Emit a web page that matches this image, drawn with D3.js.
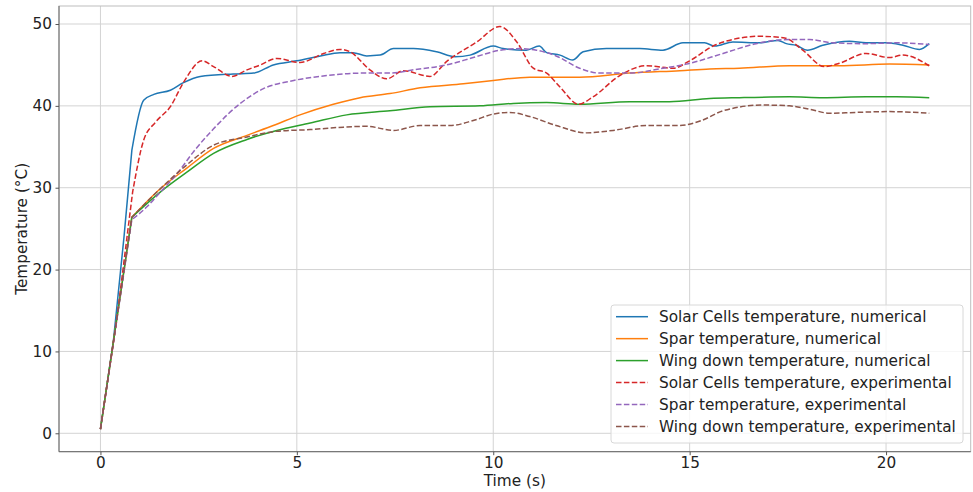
<!DOCTYPE html>
<html>
<head>
<meta charset="utf-8">
<script src="https://cdn.jsdelivr.net/npm/d3@7"></script>
<style>
  html, body { margin: 0; padding: 0; background: #fff; }
  svg { display: block; font-family: "DejaVu Sans", sans-serif; }
</style>
</head>
<body>
<svg id="chart" width="973" height="492"></svg>
<script>
// Time (s) / temperature (°C) samples for each series
const solarNumT = [0, 0.33, 0.6, 0.8, 1.1, 1.36, 1.78, 2.1, 2.54, 3.38, 3.9, 4.4, 5.0, 5.6, 6.1, 6.43, 6.78, 7.12, 7.46, 7.97, 8.56, 9.03, 9.41, 10.0, 10.25, 10.84, 11.17, 11.36, 11.7, 12.02, 12.29, 12.88, 13.73, 14.32, 14.83, 15.38, 15.64, 16.1, 16.78, 17.25, 17.46, 17.71, 18.0, 18.39, 19.07, 19.49, 20.0, 20.43, 20.85, 21.1];
const solarNumV = [0.5, 11.3, 24.0, 34.6, 40.7, 41.4, 41.9, 42.8, 43.6, 43.9, 44.0, 45.0, 45.5, 46.1, 46.5, 46.5, 46.1, 46.2, 47.0, 47.0, 46.6, 46.0, 46.2, 47.3, 47.0, 46.8, 47.3, 46.5, 46.2, 45.6, 46.6, 47.0, 47.0, 46.8, 47.7, 47.7, 47.3, 47.8, 47.7, 48.0, 47.6, 47.4, 46.8, 47.4, 47.9, 47.7, 47.7, 47.4, 46.9, 47.6];

const sparNumT = [0, 0.8, 1.53, 2.2, 2.88, 3.73, 4.4, 5.08, 5.93, 6.61, 7.37, 8.14, 9.24, 10.0, 10.93, 12.2, 13.47, 14.75, 15.51, 16.27, 17.54, 18.81, 20.09, 21.1];
const sparNumV = [0.5, 26.4, 29.9, 32.4, 34.8, 36.4, 37.6, 38.9, 40.2, 41.0, 41.5, 42.2, 42.7, 43.1, 43.5, 43.5, 44.0, 44.3, 44.5, 44.6, 44.9, 44.9, 45.1, 45.0];

const wingNumT = [0, 0.8, 1.53, 2.2, 2.88, 3.73, 4.49, 5.34, 6.27, 7.37, 8.39, 9.66, 10.51, 11.36, 12.2, 13.47, 14.49, 15.51, 16.27, 17.54, 18.39, 19.49, 20.26, 21.1];
const wingNumV = [0.5, 26.4, 29.5, 31.9, 34.2, 35.9, 37.0, 37.9, 38.9, 39.4, 39.9, 40.0, 40.3, 40.4, 40.2, 40.5, 40.5, 40.9, 41.0, 41.1, 41.0, 41.1, 41.1, 41.0];

const solarExpT = [0, 0.4, 0.82, 1.1, 1.4, 1.78, 2.12, 2.59, 2.88, 3.35, 3.73, 4.07, 4.49, 5.08, 5.68, 6.1, 6.36, 6.86, 7.29, 7.71, 8.39, 8.81, 9.58, 10.17, 10.6, 11.02, 11.36, 11.7, 12.17, 12.54, 13.22, 13.9, 14.58, 15.0, 15.68, 16.78, 17.42, 17.88, 18.43, 18.81, 19.49, 20.09, 20.43, 21.1];
const solarExpV = [0.5, 13.3, 29.5, 35.8, 38.0, 39.9, 42.9, 45.5, 44.8, 43.6, 44.4, 45.0, 45.8, 45.3, 46.4, 46.9, 46.6, 44.4, 43.3, 44.3, 43.6, 45.4, 47.8, 49.7, 47.8, 44.6, 44.0, 42.3, 40.2, 41.1, 43.7, 44.9, 44.6, 45.5, 47.5, 48.5, 48.3, 46.8, 44.8, 45.2, 46.4, 45.9, 46.2, 44.9];

const sparExpT = [0, 0.8, 1.19, 1.53, 1.95, 2.37, 2.88, 3.56, 4.15, 4.92, 5.76, 6.61, 7.37, 7.97, 8.81, 9.49, 10.17, 10.68, 11.1, 11.6, 12.2, 12.71, 13.47, 14.32, 14.92, 15.85, 16.69, 17.54, 18.05, 18.65, 19.49, 20.26, 21.1];
const sparExpV = [0.5, 26.1, 27.7, 29.5, 31.7, 34.4, 37.2, 40.3, 42.1, 43.1, 43.7, 44.0, 44.0, 44.4, 45.0, 45.9, 46.8, 47.0, 46.8, 46.1, 44.6, 44.0, 44.0, 44.6, 45.1, 46.4, 47.6, 48.1, 48.1, 47.7, 47.6, 47.7, 47.5];

const wingExpT = [0, 0.8, 1.53, 2.2, 2.88, 3.73, 4.49, 5.34, 6.19, 6.78, 7.46, 8.14, 8.9, 9.49, 10.0, 10.42, 10.93, 11.6, 12.37, 13.05, 13.9, 14.75, 15.3, 15.85, 16.86, 17.54, 18.05, 18.56, 19.24, 20.09, 21.1];
const wingExpV = [0.5, 26.4, 29.9, 32.8, 35.2, 36.2, 36.9, 37.1, 37.4, 37.5, 37.0, 37.6, 37.6, 38.2, 39.0, 39.2, 38.7, 37.6, 36.7, 37.0, 37.6, 37.6, 38.2, 39.4, 40.1, 40.0, 39.6, 39.1, 39.2, 39.3, 39.1];

const seriesNames = [
  "Solar Cells temperature, numerical",
  "Spar temperature, numerical",
  "Wing down temperature, numerical",
  "Solar Cells temperature, experimental",
  "Spar temperature, experimental",
  "Wing down temperature, experimental"
];
const seriesColors = ["#1f77b4", "#ff7f0e", "#2ca02c", "#d62728", "#9467bd", "#8c564b"];
const seriesDashed = [false, false, false, true, true, true];
const seriesT = [solarNumT, sparNumT, wingNumT, solarExpT, sparExpT, wingExpT];
const seriesV = [solarNumV, sparNumV, wingNumV, solarExpV, sparExpV, wingExpV];
// number of leading samples joined by straight segments (the initial heating ramp)
const rampPoints = [4, 2, 2, 3, 2, 2];

const xTicks = [0, 5, 10, 15, 20];
const yTicks = [0, 10, 20, 30, 40, 50];

const FONT = "15.3px";
const plot = { left: 59, right: 970.7, top: 6, bottom: 451.7 };

const svg = d3.select("#chart");
const x = d3.scaleLinear().domain([-1.055, 22.155]).range([plot.left, plot.right]);
const y = d3.scaleLinear().domain([-2.25, 52.2]).range([plot.bottom, plot.top]);

// grid
const grid = svg.append("g");
grid.selectAll("line.gx").data(xTicks).join("line")
  .attr("x1", d => x(d)).attr("x2", d => x(d))
  .attr("y1", plot.top).attr("y2", plot.bottom)
  .attr("stroke", "#d3d3d3").attr("stroke-width", 1);
grid.selectAll("line.gy").data(yTicks).join("line")
  .attr("x1", plot.left).attr("x2", plot.right)
  .attr("y1", d => y(d)).attr("y2", d => y(d))
  .attr("stroke", "#d3d3d3").attr("stroke-width", 1);

// series lines: straight ramp, then a smooth curve through the remaining samples
const ramp = d3.line();
const smooth = d3.line().curve(d3.curveMonotoneX);
seriesNames.forEach((name, i) => {
  const pts = seriesT[i].map((t, j) => [x(t), y(seriesV[i][j])]);
  const k = rampPoints[i];
  const d = ramp(pts.slice(0, k)) + smooth(pts.slice(k - 1)).replace(/^M/, "L");
  svg.append("path")
    .attr("d", d)
    .attr("fill", "none")
    .attr("stroke", seriesColors[i])
    .attr("stroke-width", 1.5)
    .attr("stroke-linejoin", "round")
    .attr("stroke-dasharray", seriesDashed[i] ? "5.5,2.4" : null);
});

// frame
svg.append("rect")
  .attr("x", plot.left).attr("y", plot.top)
  .attr("width", plot.right - plot.left).attr("height", plot.bottom - plot.top)
  .attr("fill", "none").attr("stroke", "#bdbdbd").attr("stroke-width", 1);
svg.append("line").attr("x1", plot.left).attr("x2", plot.left)
  .attr("y1", plot.top).attr("y2", plot.bottom).attr("stroke", "#666").attr("stroke-width", 1);
svg.append("line").attr("x1", plot.left).attr("x2", plot.right)
  .attr("y1", plot.bottom).attr("y2", plot.bottom).attr("stroke", "#666").attr("stroke-width", 1);

// axes
const xAxis = svg.append("g").attr("transform", `translate(0,${plot.bottom})`)
  .call(d3.axisBottom(x).tickValues(xTicks).tickSize(3.5).tickPadding(1.5).tickFormat(d3.format("d")));
const yAxis = svg.append("g").attr("transform", `translate(${plot.left},0)`)
  .call(d3.axisLeft(y).tickValues(yTicks).tickSize(3.5).tickPadding(3.5).tickFormat(d3.format("d")));
[xAxis, yAxis].forEach(a => {
  a.select(".domain").remove();
  a.selectAll(".tick line").attr("stroke", "#555");
  a.selectAll(".tick text").attr("fill", "#222").style("font-size", FONT)
    .style("font-family", "'DejaVu Sans', sans-serif");
});

// axis titles
svg.append("text").attr("x", (plot.left + plot.right) / 2).attr("y", 486)
  .attr("text-anchor", "middle").attr("fill", "#222").style("font-size", FONT)
  .text("Time (s)");
svg.append("text").attr("transform", `translate(26.5,${(plot.top + plot.bottom) / 2}) rotate(-90)`)
  .attr("text-anchor", "middle").attr("fill", "#222").style("font-size", FONT)
  .text("Temperature (°C)");

// legend
const lg = svg.append("g").attr("transform", "translate(611,305)");
lg.append("rect").attr("width", 352).attr("height", 138).attr("rx", 3)
  .attr("fill", "rgba(255,255,255,0.8)").attr("stroke", "#d8d8d8").attr("stroke-width", 1);
seriesNames.forEach((name, i) => {
  const cy = 11.7 + i * 21.95;
  lg.append("line").attr("x1", 5).attr("x2", 37).attr("y1", cy).attr("y2", cy)
    .attr("stroke", seriesColors[i]).attr("stroke-width", 1.5)
    .attr("stroke-dasharray", seriesDashed[i] ? "5.5,2.4" : null);
  lg.append("text").attr("x", 48).attr("y", cy).attr("dy", "0.36em")
    .attr("fill", "#222").style("font-size", FONT).text(name);
});
</script>
</body>
</html>
